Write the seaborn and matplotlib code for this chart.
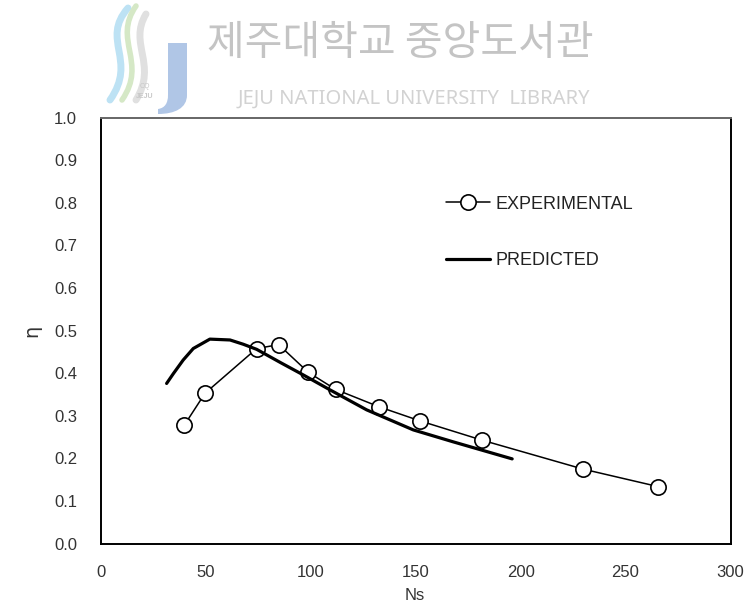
import matplotlib
matplotlib.use("Agg")
import matplotlib.pyplot as plt
import seaborn as sns
import pandas as pd
from matplotlib.path import Path
from matplotlib.patches import PathPatch

# Specific speed vs. efficiency
exp_ns = [39.8, 49.7, 74.3, 84.8, 98.9, 111.9, 132.7, 152.2, 181.6, 229.8, 265.5]
exp_eta = [0.278, 0.353, 0.458, 0.467, 0.402, 0.362, 0.321, 0.288, 0.243, 0.175, 0.134]

pred_ns = [31.4, 34.6, 39.3, 44.1, 52.0, 61.6, 67.9, 74.3, 86.0, 96.5, 109.2,
           126.7, 148.9, 167.9, 196.0]
pred_eta = [0.376, 0.399, 0.431, 0.458, 0.480, 0.478, 0.468, 0.456, 0.424, 0.396,
            0.361, 0.314, 0.267, 0.239, 0.199]

x_ticks = [0, 50, 100, 150, 200, 250, 300]
y_ticks = [0.0, 0.1, 0.2, 0.3, 0.4, 0.5, 0.6, 0.7, 0.8, 0.9, 1.0]

exp_df = pd.DataFrame({"Ns": exp_ns, "eta": exp_eta})
pred_df = pd.DataFrame({"Ns": pred_ns, "eta": pred_eta})

sns.set_theme(style="white")
plt.rcParams["font.family"] = ["Liberation Sans", "DejaVu Sans"]

W, H = 747, 614
fig = plt.figure(figsize=(W / 100, H / 100), dpi=100)
fig.patch.set_facecolor("white")


def fx(px):
    return px / W


def fy(py):
    return 1 - py / H


ax = fig.add_axes([fx(100.7), fy(543.7), fx(730.5) - fx(100.7), fy(117.5) - fy(543.7)])

sns.lineplot(data=exp_df, x="Ns", y="eta", ax=ax, sort=False, color="black",
             linewidth=1.1, marker="o", markersize=11, markerfacecolor="white",
             markeredgecolor="black", markeredgewidth=1.2, label="EXPERIMENTAL")
sns.lineplot(data=pred_df, x="Ns", y="eta", ax=ax, sort=False, color="black",
             linewidth=2.3, label="PREDICTED")

ax.set_xlim(0, 300)
ax.set_ylim(0, 1.0)
ax.set_xticks(x_ticks)
ax.set_yticks(y_ticks)
ax.set_xticklabels([str(v) for v in x_ticks])
ax.set_yticklabels([f"{v:.1f}" for v in y_ticks])
ax.tick_params(axis="both", direction="in", length=6, width=1, color="black",
               labelsize=12, labelcolor="#333333", pad=15)
ax.tick_params(axis="y", pad=17)

for side in ["left", "bottom", "right"]:
    ax.spines[side].set_color("black")
    ax.spines[side].set_linewidth(1.4)
ax.spines["top"].set_color("#666666")
ax.spines["top"].set_linewidth(1.4)

ax.set_xlabel("Ns", fontsize=12, color="#333333")
ax.set_ylabel("η", fontsize=14, color="#333333", family=["DejaVu Sans"])
ax.xaxis.set_label_coords(0.499, -0.105)
ax.yaxis.set_label_coords(-0.095, 0.50)

leg = ax.legend(loc="center left", bbox_to_anchor=(0.549, 0.730), frameon=False,
                fontsize=13, handlelength=2.4, handletextpad=0.3, labelspacing=2.2,
                borderpad=0, borderaxespad=0)
for t in leg.get_texts():
    t.set_color("#222222")

# Library watermark
fig.text(fx(400), fy(44), "제주대학교 중앙도서관", fontsize=29.5, color="#c4c4c4",
         ha="center", va="center", family=["Noto Sans CJK KR"])
fig.text(fx(414), fy(99), "JEJU NATIONAL UNIVERSITY  LIBRARY", fontsize=14.5,
         color="#d2d2d2", ha="center", va="center", family=["Noto Sans"])


def fig_path(points, codes):
    return Path([(fx(px), fy(py)) for px, py in points], codes)


# J-shaped bar of the emblem
j_pts = [(168, 43), (187, 43), (187, 95),
         (187, 108), (175, 114), (158, 114),
         (158, 109),
         (165, 108), (168, 103), (168, 95),
         (168, 43)]
j_codes = [Path.MOVETO, Path.LINETO, Path.LINETO,
           Path.CURVE4, Path.CURVE4, Path.CURVE4,
           Path.LINETO,
           Path.CURVE4, Path.CURVE4, Path.CURVE4,
           Path.CLOSEPOLY]
fig.add_artist(PathPatch(fig_path(j_pts, j_codes), transform=fig.transFigure,
                         facecolor="#b0c6e6", edgecolor="none"))

# Wave strokes of the emblem
for pts, col, lw in [
    ([(128, 8), (100, 40), (138, 60), (110, 100)], "#bde2f4", 5),
    ([(136, 6), (112, 40), (148, 62), (122, 100)], "#d5e8c6", 4),
    ([(146, 14), (128, 44), (158, 64), (136, 100)], "#e0e0e0", 5),
]:
    path = fig_path(pts, [Path.MOVETO, Path.CURVE4, Path.CURVE4, Path.CURVE4])
    fig.add_artist(PathPatch(path, transform=fig.transFigure, facecolor="none",
                             edgecolor=col, linewidth=lw, capstyle="round"))

fig.text(fx(145), fy(86), "CQ", fontsize=5, color="#c8c8c8", ha="center", va="center")
fig.text(fx(145), fy(96), "JEJU", fontsize=5, color="#c8c8c8", ha="center", va="center",
         weight="bold")

fig.savefig("out.png", dpi=100)
